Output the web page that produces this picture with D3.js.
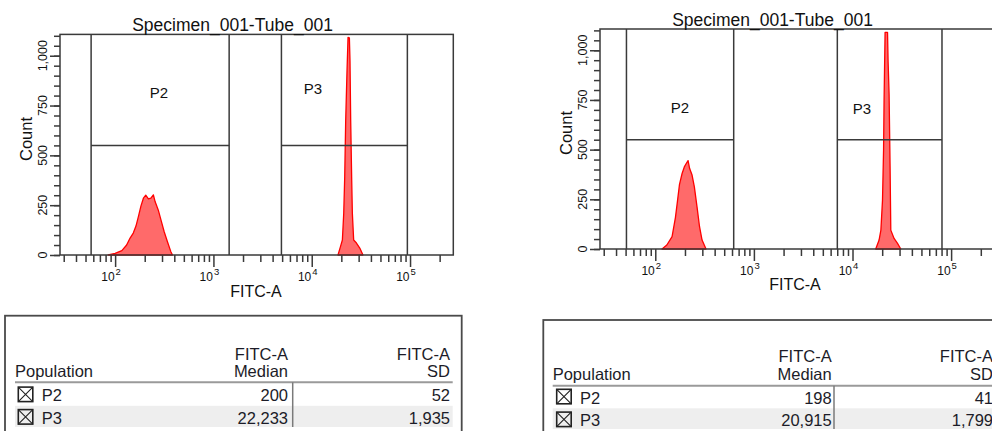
<!DOCTYPE html>
<html><head><meta charset="utf-8">
<script src="https://cdn.jsdelivr.net/npm/d3@7/dist/d3.min.js"></script>
<style>
html,body{margin:0;padding:0;background:#fff;overflow:hidden}
svg{display:block;font-family:"Liberation Sans",Arial,sans-serif}
</style></head><body>
<svg id="c" width="992" height="431"></svg>
<script>
// ---------- data ----------
const plotTitle = "Specimen_001-Tube_001";
const xAxisLabel = "FITC-A";
const yAxisLabel = "Count";
const xMajorTicks = [100, 1000, 10000, 100000];
const xMinorTicks = [30,40,50,60,70,80,90,200,300,400,500,600,700,800,900,
  2000,3000,4000,5000,6000,7000,8000,9000,20000,30000,40000,50000,60000,70000,80000,90000,200000];
const yMajorTicks = [0, 250, 500, 750, 1000];
const yMinorTicks = [0,50,100,150,200,250,300,350,400,450,500,550,600,650,700,750,800,850,900,950,1000,1050,1100];
const gateNames = ["P2", "P3"];

// histogram outlines: [FITC-A value, count]
const leftP2 = [[85,0],[100,8],[117,22],[131,50],[142,85],[153,110],[163,145],[173,195],[183,245],[194,285],
  [205,300],[218,282],[231,285],[245,302],[255,268],[275,225],[293,175],[315,118],[340,68],[368,18],[383,0]];
const leftP3 = [[18500,0],[19600,42],[20500,75],[21150,208],[21650,392],[22150,675],[22850,925],[23400,1092],
  [24150,1090],[24500,975],[24900,675],[25500,375],[25900,208],[26700,75],[28500,60],[30800,35],[33200,0]];
const rightP2 = [[117,0],[131,20],[148,62],[160,158],[168,242],[176,325],[187,380],[197,413],[206,430],[215,445],
  [223,405],[236,372],[249,313],[265,212],[281,112],[298,45],[327,0]];
const rightP3 = [[17200,0],[18600,45],[19400,95],[20150,246],[20650,497],[20900,748],[21400,1090],[22650,1090],
  [22950,945],[23500,778],[24050,412],[24450,95],[26400,53],[28600,28],[30900,0]];

// gates: [low, high] on FITC-A, drawn at a count level
const leftGates = [[57, 1445], [4916, 93900]];
const rightGates = [[51, 624], [7015, 80800]];
const gateLevel = 550;

// statistics table
const populations = ["P2", "P3"];
const leftMedian = [200, 22233], leftSD = [52, 1935];
const rightMedian = [198, 20915], rightSD = [41, 1799];
const tableHeaders = [["FITC-A","Median"],["FITC-A","SD"]];
const popHeader = "Population";

// ---------- layout ----------
const svg = d3.select("#c");
const fmt = d3.format(",");
const xDomain = [27.5, 275400];
const yDomain = [0, 1107];

const panels = [
  {x0:60, x1:453.3, yTop:34.4, yBot:255, titleX:232.5, titleY:31, countX:31.7, countY:139,
   labX:256, labY:296.7, gateLab:[[159,98],[313,94]], hist:[leftP2,leftP3], gates:leftGates},
  {x0:600, x1:994.5, yTop:29, yBot:249, titleX:772.5, titleY:26, countX:571.7, countY:133,
   labX:795, labY:290, gateLab:[[680,113],[862,114]], hist:[rightP2,rightP3], gates:rightGates}
];

const frameColor = "#3a3a3a";

panels.forEach(p => {
  const x = d3.scaleLog().domain(xDomain).range([p.x0, p.x1]);
  const y = d3.scaleLinear().domain(yDomain).range([p.yBot, p.yTop]);
  const g = svg.append("g");

  // histograms
  const area = d3.area().x(d => x(d[0])).y0(y(0)).y1(d => y(d[1]));
  p.hist.forEach(h => {
    g.append("path").datum(h).attr("d", area)
      .attr("fill", "#ff6a6a").attr("stroke", "#ff0000").attr("stroke-width", 1.3)
      .attr("stroke-linejoin", "round");
  });

  // gates
  p.gates.forEach((gt, i) => {
    const gx0 = x(gt[0]), gx1 = x(gt[1]);
    g.append("line").attr("x1", gx0).attr("x2", gx0).attr("y1", p.yTop).attr("y2", p.yBot)
      .attr("stroke", frameColor).attr("stroke-width", 1.5);
    g.append("line").attr("x1", gx1).attr("x2", gx1).attr("y1", p.yTop).attr("y2", p.yBot)
      .attr("stroke", frameColor).attr("stroke-width", 1.5);
    g.append("line").attr("x1", gx0).attr("x2", gx1).attr("y1", y(gateLevel)).attr("y2", y(gateLevel))
      .attr("stroke", frameColor).attr("stroke-width", 1.5);
    g.append("text").attr("x", p.gateLab[i][0]).attr("y", p.gateLab[i][1])
      .attr("text-anchor", "middle").attr("font-size", 15).attr("fill", "#111").text(gateNames[i]);
  });

  // frame
  g.append("rect").attr("x", p.x0).attr("y", p.yTop).attr("width", p.x1 - p.x0).attr("height", p.yBot - p.yTop)
    .attr("fill", "none").attr("stroke", frameColor).attr("stroke-width", 1.5);

  // x axis ticks
  const xa1 = g.append("g").attr("transform", `translate(0,${p.yBot})`)
    .call(d3.axisBottom(x).tickValues(xMinorTicks).tickSize(7).tickFormat(""));
  const xa2 = g.append("g").attr("transform", `translate(0,${p.yBot})`)
    .call(d3.axisBottom(x).tickValues(xMajorTicks).tickSize(12).tickFormat(""));
  [xa1, xa2].forEach(a => {
    a.select(".domain").remove();
    a.selectAll("line").attr("stroke", frameColor).attr("stroke-width", 1.5);
  });
  xMajorTicks.forEach(v => {
    const tx = x(v);
    g.append("text").attr("x", tx - 0.5).attr("y", p.yBot + 26).attr("text-anchor", "end")
      .attr("font-size", 12).attr("fill", "#111").text("10");
    g.append("text").attr("x", tx + 0.5).attr("y", p.yBot + 20).attr("text-anchor", "start")
      .attr("font-size", 9.5).attr("fill", "#111").text(Math.round(Math.log10(v)));
  });

  // y axis ticks
  const ya1 = g.append("g").attr("transform", `translate(${p.x0},0)`)
    .call(d3.axisLeft(y).tickValues(yMinorTicks).tickSize(6).tickFormat(""));
  const ya2 = g.append("g").attr("transform", `translate(${p.x0},0)`)
    .call(d3.axisLeft(y).tickValues(yMajorTicks).tickSize(10).tickFormat(""));
  [ya1, ya2].forEach(a => {
    a.select(".domain").remove();
    a.selectAll("line").attr("stroke", frameColor).attr("stroke-width", 1.5);
  });
  yMajorTicks.forEach(v => {
    const bx = p.x0 - 13;
    g.append("text").attr("transform", `translate(${bx},${y(v)}) rotate(-90)`)
      .attr("text-anchor", "middle").attr("font-size", 12.5).attr("fill", "#111").text(fmt(v));
  });

  // titles
  g.append("text").attr("x", p.titleX).attr("y", p.titleY).attr("text-anchor", "middle")
    .attr("font-size", 17.5).attr("fill", "#111").text(plotTitle);
  g.append("text").attr("x", p.labX).attr("y", p.labY).attr("text-anchor", "middle")
    .attr("font-size", 16).attr("fill", "#111").text(xAxisLabel);
  g.append("text").attr("transform", `translate(${p.countX},${p.countY}) rotate(-90)`)
    .attr("text-anchor", "middle").attr("font-size", 16.5).attr("fill", "#111").text(yAxisLabel);
});

// ---------- tables ----------
const tables = [
  {bx:5, by:315.7, br:461.7, popX:15, c1:288, c2:450, h1:359.5, h2:377, lineY:382.3, lx0:15, lx1:452.7,
   rows:[401.3, 423.8], shade:[405.8, 427], divX:292.7, cbX:18.3, nameX:41.7, med:leftMedian, sd:leftSD},
  {bx:543.3, by:320, br:1010, popX:552.7, c1:831.7, c2:993, h1:361.5, h2:380.3, lineY:385.7, lx0:552.7, lx1:1000,
   rows:[403.5, 426.3], shade:[408.3, 429], divX:834, cbX:556.7, nameX:580, med:rightMedian, sd:rightSD}
];
const ts = 16.5;
tables.forEach(t => {
  const g = svg.append("g").attr("font-size", ts).attr("fill", "#1c1c28");
  g.append("rect").attr("x", t.bx).attr("y", t.by).attr("width", t.br - t.bx).attr("height", 200)
    .attr("fill", "#fff").attr("stroke", "#4a4a4a").attr("stroke-width", 1.8);
  g.append("rect").attr("x", t.lx0).attr("y", t.shade[0]).attr("width", t.lx1 - t.lx0)
    .attr("height", t.shade[1] - t.shade[0]).attr("fill", "#eeeeee");
  g.append("line").attr("x1", t.lx0).attr("x2", t.lx1).attr("y1", t.lineY).attr("y2", t.lineY)
    .attr("stroke", "#9a9a9a").attr("stroke-width", 2);
  g.append("line").attr("x1", t.divX).attr("x2", t.divX).attr("y1", t.lineY).attr("y2", t.shade[1])
    .attr("stroke", "#7a7a7a").attr("stroke-width", 1.5);
  g.append("text").attr("x", t.popX).attr("y", t.h2).text(popHeader);
  [t.c1, t.c2].forEach((cx, i) => {
    g.append("text").attr("x", cx).attr("y", t.h1).attr("text-anchor", "end").text(tableHeaders[i][0]);
    g.append("text").attr("x", cx).attr("y", t.h2).attr("text-anchor", "end").text(tableHeaders[i][1]);
  });
  populations.forEach((pop, i) => {
    const by = t.rows[i];
    const s = 14.5, cy = by - 14.2;
    g.append("rect").attr("x", t.cbX).attr("y", cy).attr("width", s).attr("height", s)
      .attr("fill", "none").attr("stroke", "#222").attr("stroke-width", 1.6);
    g.append("path").attr("d", `M${t.cbX},${cy}L${t.cbX + s},${cy + s}M${t.cbX + s},${cy}L${t.cbX},${cy + s}`)
      .attr("stroke", "#222").attr("stroke-width", 1.1);
    g.append("text").attr("x", t.nameX).attr("y", by).text(pop);
    g.append("text").attr("x", t.c1).attr("y", by).attr("text-anchor", "end").text(fmt(t.med[i]));
    g.append("text").attr("x", t.c2).attr("y", by).attr("text-anchor", "end").text(fmt(t.sd[i]));
  });
});
</script>
</body></html>
